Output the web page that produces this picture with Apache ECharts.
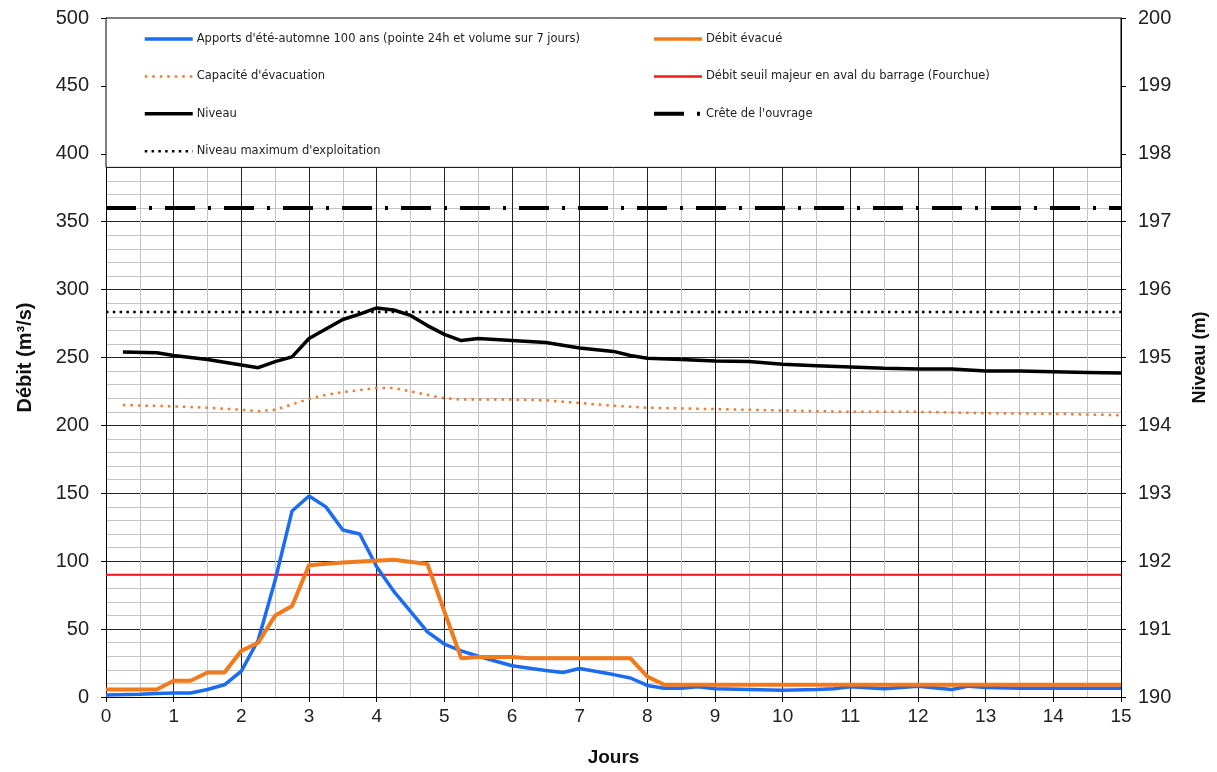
<!DOCTYPE html>
<html>
<head>
<meta charset="utf-8">
<script src="https://cdn.jsdelivr.net/npm/echarts@6/dist/echarts.min.js"></script>
<style>
html,body{margin:0;padding:0;background:#fff;}
#chart{width:1217px;height:772px;}
</style>
</head>
<body>
<div id="chart"></div>
<script>
// ---- Data (days, values) ----
const apportsX = [0,0.5,0.75,1,1.25,1.5,1.75,2,2.25,2.5,2.75,3,3.25,3.5,3.75,4,4.25,4.5,4.75,5,5.25,5.5,6,6.5,6.75,7,7.5,7.75,8,8.25,8.5,8.75,9,9.5,10,10.5,10.75,11,11.5,12,12.5,12.75,13,13.5,14,15];
const apportsY = [1.5,2,2.5,3,3,5.5,9,19,42,86,137,148,140,123,120,96,78,63,48,39,34,30,23,19.5,18,21,16.5,14,8.5,6.5,6.5,7.5,6,5.5,5,5.5,6,7.5,6,8,5.5,8,7,6.5,6.5,6.5];

const debitX = [0,0.75,1,1.25,1.5,1.75,2,2.25,2.5,2.75,3,3.5,4.25,4.75,5,5.25,5.5,6,6.25,7.75,8,8.25,15];
const debitY = [5.5,5.5,12,12,18,18,34,40,60,67,97,99,101,98,63,28.5,29.5,29.5,28.5,28.5,15,9,9];

const capaciteX = [0.25,1,1.5,2,2.25,2.5,2.75,3,3.25,3.5,3.75,4,4.25,4.5,4.75,5,5.25,6,6.5,7,7.5,8,9,10,11,12,13,14,15];
const capaciteY = [215,214,213,211.5,210.5,211.5,215.5,219.5,222.5,224.5,226,227.5,227.5,225,222.5,220,219,219,218.5,216.5,214.5,213,212,211,210,210,209,208.5,207.5];

const niveauX = [0.25,0.75,1,1.25,1.5,2,2.25,2.5,2.75,3,3.25,3.5,3.75,4,4.25,4.5,4.75,5,5.25,5.5,6,6.5,7,7.5,7.75,8,8.5,9,9.5,10,10.5,11,11.5,12,12.5,13,13.5,14,14.5,15];
const niveauY = [195.08,195.07,195.03,195.00,194.97,194.89,194.85,194.94,195.01,195.28,195.42,195.56,195.64,195.73,195.70,195.62,195.47,195.34,195.25,195.28,195.25,195.22,195.14,195.09,195.03,194.99,194.97,194.95,194.94,194.90,194.88,194.86,194.84,194.83,194.83,194.80,194.80,194.79,194.78,194.77];

const seuilDebit = 90;        // m3/s
const niveauMax = 195.67;     // m
const creteOuvrage = 197.2;   // m
const xRange = [0, 15];

const xTicks = [0,15,1];       // min, max, interval
const yLeftTicks = [0,500,50];
const yRightTicks = [190,200,1];
const legendTop = 390;         // legend box covers the plot from 390 to 500 m3/s

const names = {
  apports: "Apports d'été-automne 100 ans (pointe 24h et volume sur 7 jours)",
  debit: "Débit évacué",
  capacite: "Capacité d'évacuation",
  seuil: "Débit seuil majeur en aval du barrage (Fourchue)",
  niveau: "Niveau",
  crete: "Crête de l'ouvrage",
  niveauMax: "Niveau maximum d'exploitation"
};

const zip = (xs, ys) => xs.map((x, i) => [x, ys[i]]);

const FONT = "'Liberation Sans', Arial, sans-serif";
const chart = echarts.init(document.getElementById('chart'), null, {renderer: 'canvas'});

const legendCommon = {
  orient: 'vertical', top: 32, z: 10, padding: 0,
  itemWidth: 48, itemHeight: 14, itemGap: 23.4,
  itemStyle: {opacity: 0},
  textStyle: {fontFamily: "'DejaVu Sans', sans-serif", fontSize: 11.5, color: '#222', padding: [0,0,0,-1], height: 14, lineHeight: 14}
};
const li = (name, w) => ({name: name, lineStyle: {width: w}});

const option = {
  animation: false,
  backgroundColor: '#fff',
  grid: {left: 106, right: 95, top: 18, bottom: 75, containLabel: false},
  xAxis: {
    type: 'value', min: xTicks[0], max: xTicks[1], interval: xTicks[2],
    name: 'Jours', nameLocation: 'middle', nameGap: 51,
    nameTextStyle: {fontFamily: FONT, fontSize: 19, fontWeight: 'bold', color: '#111'},
    axisLine: {show: true, onZero: false, lineStyle: {color: '#000', width: 1}},
    axisTick: {show: true, length: 5, lineStyle: {color: '#000'}},
    axisLabel: {fontFamily: FONT, fontSize: 19, color: '#222', margin: 10},
    splitLine: {show: true, lineStyle: {color: '#222', width: 1}},
    minorTick: {show: false, splitNumber: 2},
    minorSplitLine: {show: true, lineStyle: {color: '#c4c4c4', width: 1}}
  },
  yAxis: [{
    type: 'value', min: yLeftTicks[0], max: yLeftTicks[1], interval: yLeftTicks[2],
    name: 'Débit (m³/s)', nameLocation: 'middle', nameGap: 71, nameRotate: 90,
    nameTextStyle: {fontFamily: FONT, fontSize: 20, fontWeight: 'bold', color: '#111'},
    axisLine: {show: true, lineStyle: {color: '#000', width: 1}},
    axisTick: {show: true, length: 5, lineStyle: {color: '#000'}},
    axisLabel: {fontFamily: FONT, fontSize: 20, color: '#222', margin: 17},
    splitLine: {show: true, lineStyle: {color: '#222', width: 1}},
    minorTick: {show: false, splitNumber: 5},
    minorSplitLine: {show: true, lineStyle: {color: '#c4c4c4', width: 1}}
  }, {
    type: 'value', min: yRightTicks[0], max: yRightTicks[1], interval: yRightTicks[2],
    position: 'right',
    name: 'Niveau (m)', nameLocation: 'middle', nameGap: 70, nameRotate: 90,
    nameTextStyle: {fontFamily: FONT, fontSize: 18, fontWeight: 'bold', color: '#111'},
    axisLine: {show: true, lineStyle: {color: '#000', width: 1}},
    axisTick: {show: true, length: 5, lineStyle: {color: '#000'}},
    axisLabel: {fontFamily: FONT, fontSize: 20, color: '#222', margin: 17},
    splitLine: {show: false}
  }],
  legend: [
    Object.assign({}, legendCommon, {left: 143,
      data: [li(names.apports, 3.5), li(names.capacite, 2.5), li(names.niveau, 3.5), li(names.niveauMax, 2.5)]}),
    Object.assign({}, legendCommon, {left: 652,
      data: [li(names.debit, 3.5), li(names.seuil, 2.5), li(names.crete, 4)]})
  ],
  series: [
    {name: names.crete, type: 'line', yAxisIndex: 1, symbol: 'none', z: 2,
     lineStyle: {color: '#000', width: 4, type: [30, 13, 3, 13]},
     itemStyle: {color: '#000'},
     data: [[xRange[0], creteOuvrage], [xRange[1], creteOuvrage]]},
    {name: names.niveauMax, type: 'line', yAxisIndex: 1, symbol: 'none', z: 2,
     lineStyle: {color: '#000', width: 2.5, type: [2.5, 4.3]},
     itemStyle: {color: '#000'},
     data: [[xRange[0], niveauMax], [xRange[1], niveauMax]]},
    {name: names.niveau, type: 'line', yAxisIndex: 1, symbol: 'none', z: 3,
     lineStyle: {color: '#000', width: 3.5},
     itemStyle: {color: '#000'},
     data: zip(niveauX, niveauY)},
    {name: names.capacite, type: 'line', yAxisIndex: 0, symbol: 'none', z: 3,
     lineStyle: {color: '#f07a30', width: 2.5, type: [2.5, 5]},
     itemStyle: {color: '#f07a30'},
     data: zip(capaciteX, capaciteY)},
    {name: names.seuil, type: 'line', yAxisIndex: 0, symbol: 'none', z: 3,
     lineStyle: {color: '#ee1b1b', width: 2},
     itemStyle: {color: '#ee1b1b'},
     data: [[xRange[0], seuilDebit], [xRange[1], seuilDebit]]},
    {name: names.apports, type: 'line', yAxisIndex: 0, symbol: 'none', z: 4,
     lineStyle: {color: '#1b6cf0', width: 3.5},
     itemStyle: {color: '#1b6cf0'},
     data: zip(apportsX, apportsY)},
    {name: names.debit, type: 'line', yAxisIndex: 0, symbol: 'none', z: 5,
     lineStyle: {color: '#f07a1e', width: 4},
     itemStyle: {color: '#f07a1e'},
     data: zip(debitX, debitY)}
  ]
};
chart.setOption(option);

// white legend box at the top of the plot area
const pTop = chart.convertToPixel({yAxisIndex: 0}, yLeftTicks[1]);
const pBot = chart.convertToPixel({yAxisIndex: 0}, legendTop);
const pL = chart.convertToPixel({xAxisIndex: 0}, xTicks[0]);
const pR = chart.convertToPixel({xAxisIndex: 0}, xTicks[1]);
chart.setOption({
  graphic: [{
    type: 'rect', z: 6, silent: true,
    shape: {x: pL, y: pTop, width: pR - pL, height: pBot - pTop},
    style: {fill: '#fff', stroke: '#000', lineWidth: 1}
  }]
});
</script>
</body>
</html>
